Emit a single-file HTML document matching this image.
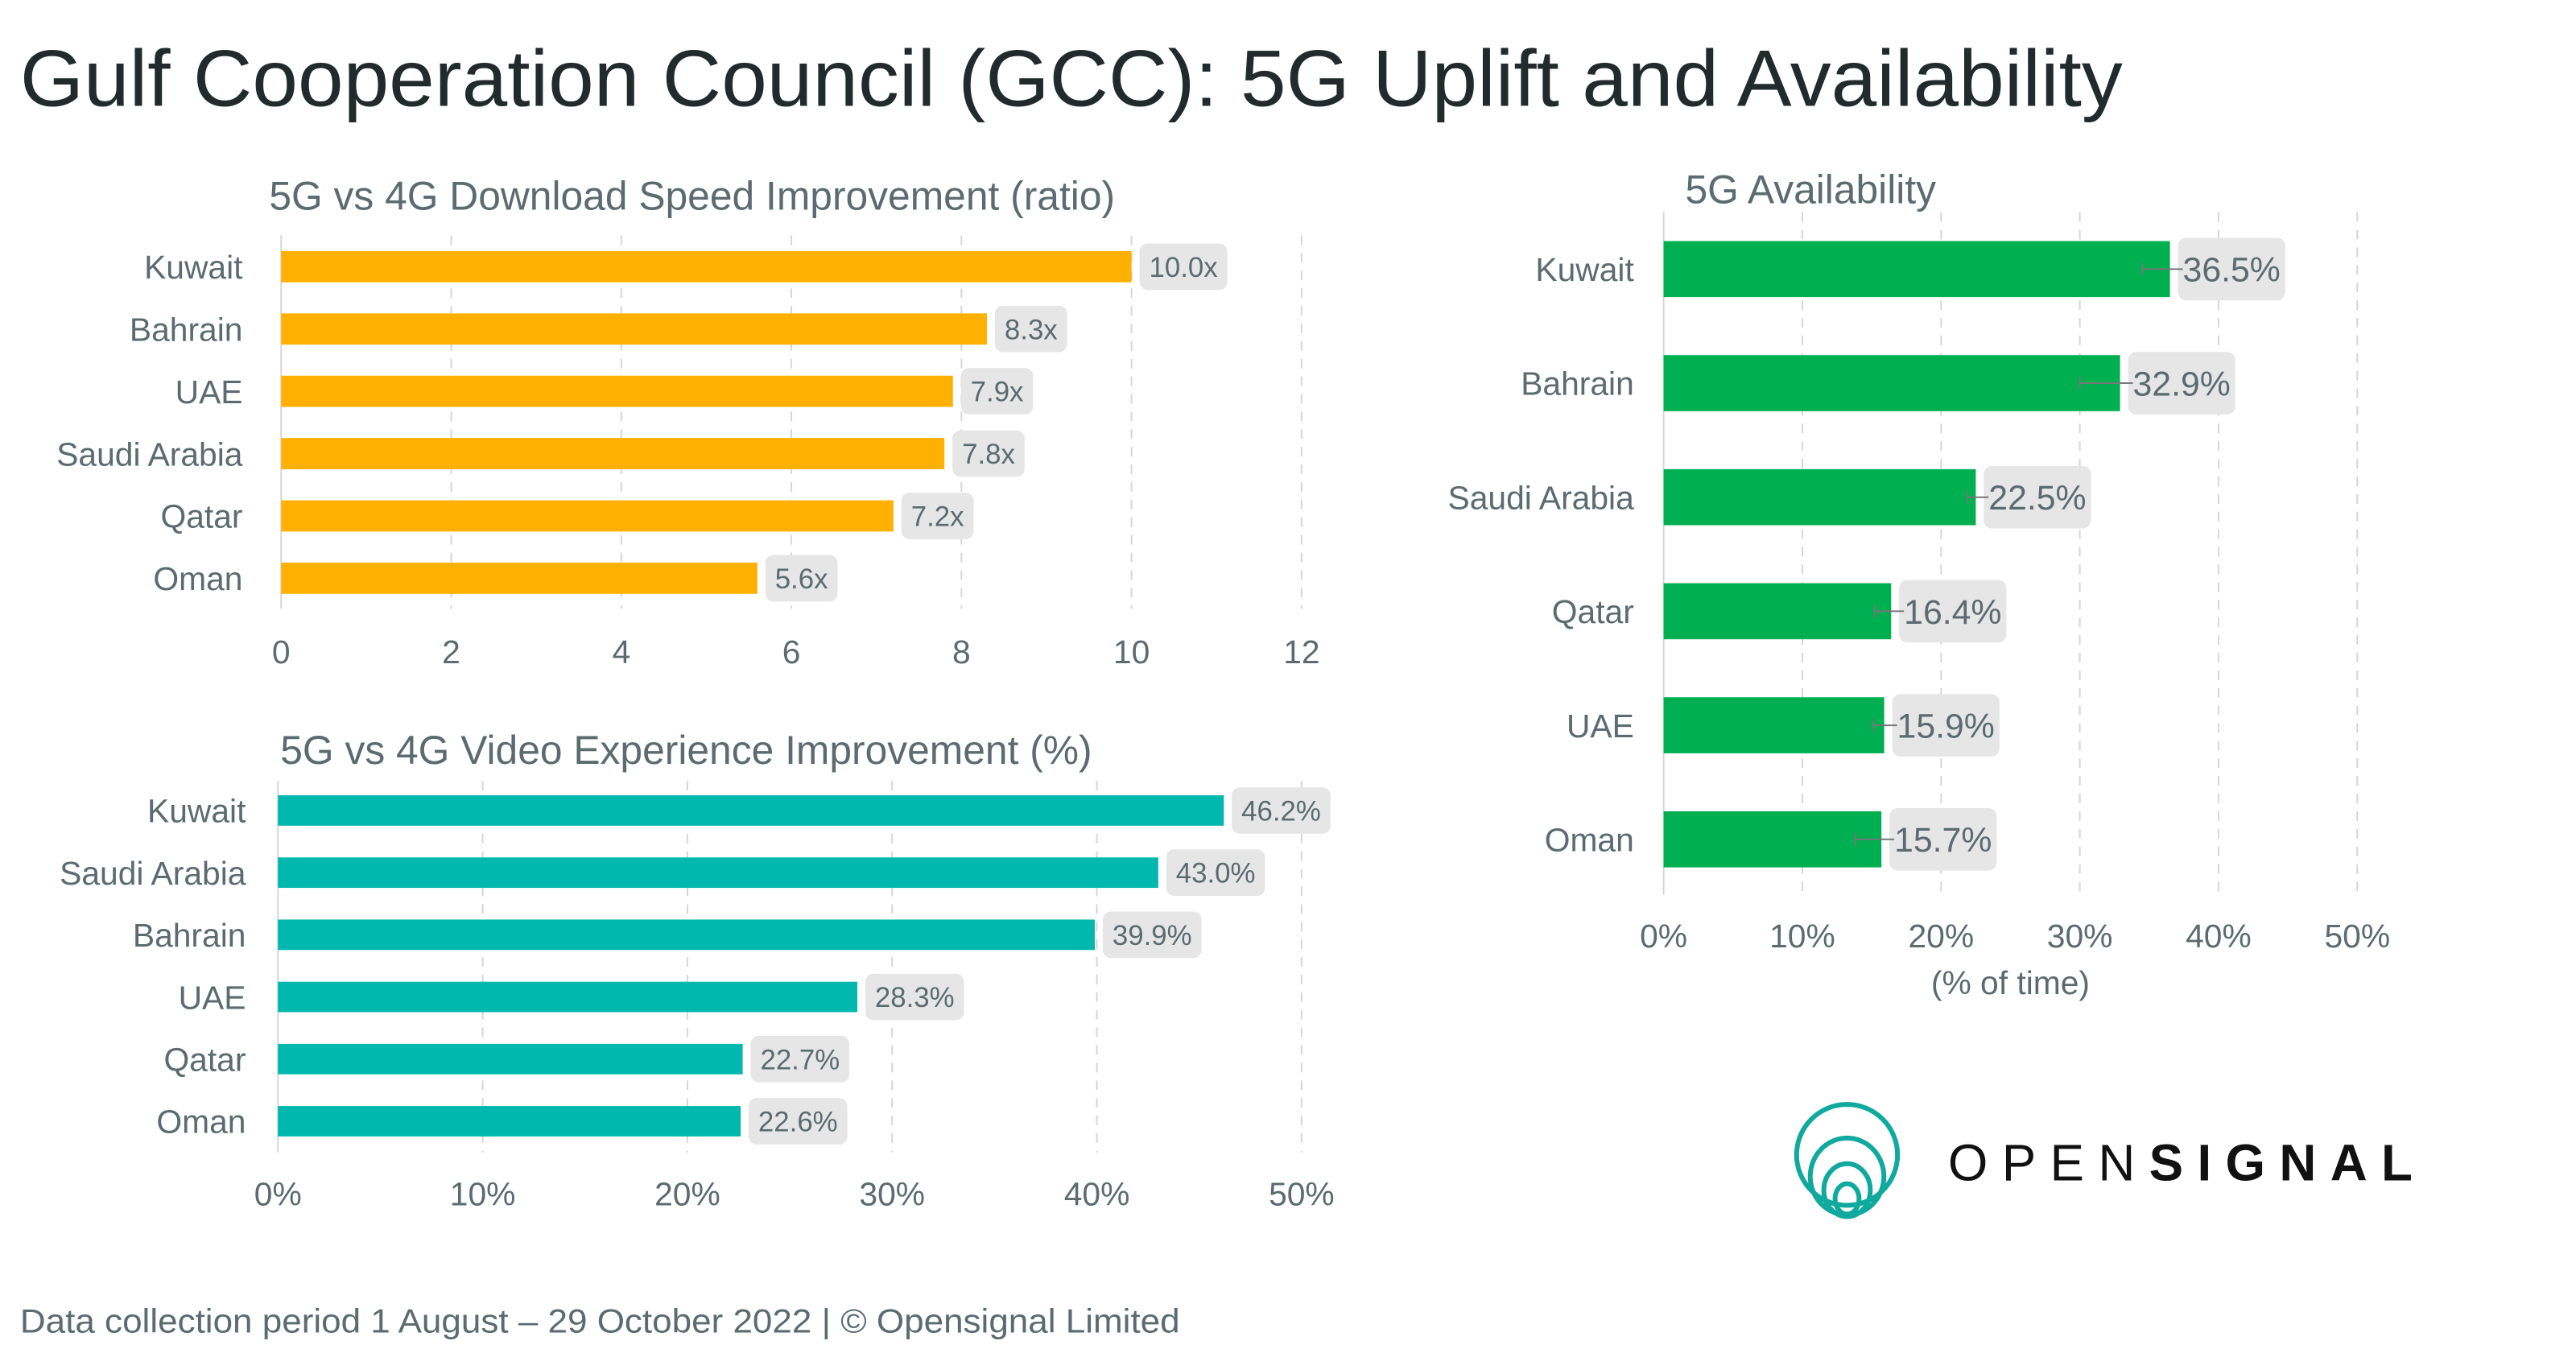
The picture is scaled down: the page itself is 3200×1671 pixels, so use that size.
<!DOCTYPE html>
<html><head><meta charset="utf-8"><style>
html,body{margin:0;padding:0;background:#fff;}
svg{display:block;font-family:"Liberation Sans",sans-serif;}
</style></head><body>
<svg id="root" width="3200" height="1671" viewBox="0 0 3200 1671" xmlns="http://www.w3.org/2000/svg">
<g transform="scale(0.995)">
<text x="25" y="132" font-size="100" fill="#222a2b" textLength="2625" lengthAdjust="spacingAndGlyphs">Gulf Cooperation Council (GCC): 5G Uplift and Availability</text>
<g id="dl"></g>
<g id="vid"></g>
<g id="av"></g>
<g>
<g fill="none" stroke="#10a99e" stroke-width="6">
<ellipse cx="2306" cy="1442" rx="63" ry="63"/>
<ellipse cx="2306" cy="1469" rx="46" ry="48"/>
<ellipse cx="2306" cy="1486" rx="29" ry="33"/>
<ellipse cx="2306" cy="1497" rx="15" ry="19"/>
</g>
<text x="2432" y="1474" font-size="64" fill="#111" textLength="580" lengthAdjust="spacing">OPEN<tspan font-weight="bold">SIGNAL</tspan></text>
</g>
<text x="25" y="1664" font-size="42" fill="#5b6b70" textLength="1448" lengthAdjust="spacingAndGlyphs">Data collection period 1 August – 29 October 2022  |  © Opensignal Limited</text>
</g>
</svg>
<script>
const dlCategories=["Kuwait","Bahrain","UAE","Saudi Arabia","Qatar","Oman"];
const dlValues=[10.0,8.3,7.9,7.8,7.2,5.6];
const dlTicks=[0,2,4,6,8,10,12];
const vidCategories=["Kuwait","Saudi Arabia","Bahrain","UAE","Qatar","Oman"];
const vidValues=[46.2,43.0,39.9,28.3,22.7,22.6];
const vidTicks=[0,10,20,30,40,50];
const avCategories=["Kuwait","Bahrain","Saudi Arabia","Qatar","UAE","Oman"];
const avValues=[36.5,32.9,22.5,16.4,15.9,15.7];
const avErrLow=[34.5,30.0,21.9,15.2,15.1,13.8];
const avTicks=[0,10,20,30,40,50];
const NS="http://www.w3.org/2000/svg";
function mk(parent,tag,attrs,text){const e=document.createElementNS(NS,tag);for(const k in attrs)e.setAttribute(k,attrs[k]);if(text!=null)e.textContent=text;parent.appendChild(e);return e;}
function chart(o){
  const g=document.getElementById(o.id);
  const x=v=>o.x0+(v-o.tmin)/(o.tmax-o.tmin)*(o.x1-o.x0);
  const y=i=>o.yc0+i*o.step;
  const t=mk(g,'text',{x:o.titleX,y:o.titleY,'font-size':o.titleSize,fill:'#5b6b70'},o.title);
  
  
  o.ticks.forEach((tv,i)=>{
    const l=mk(g,'line',{x1:x(tv),x2:x(tv),y1:o.gy0,y2:o.gy1,stroke:'#d6d6d6','stroke-width':2,'stroke-dasharray':i===0?'none':'12,10'});
    
    
    const tl=mk(g,'text',{x:x(tv),y:o.tickY,'font-size':o.fs,fill:'#5b6b70','text-anchor':'middle'},tv+o.tickSuffix);
    
    
  });
  if(o.axisTitle){const at=mk(g,'text',{x:(x(o.ticks[0])+x(o.ticks[o.ticks.length-1]))/2,y:o.axisTitleY,'font-size':o.fs,fill:'#5b6b70','text-anchor':'middle'},o.axisTitle);
    
    }
  o.cats.forEach((c,i)=>{
    const cy=y(i),v=o.vals[i];
    const cl=mk(g,'text',{x:o.labelRight,y:cy+o.fs*0.36,'font-size':o.fs,fill:'#5b6b70','text-anchor':'end'},c);
    
    
    const b=mk(g,'rect',{x:x(0),y:cy-o.bh/2,width:x(v)-x(0),height:o.bh,fill:o.color});
    
    
    const txt=o.fmt(v);
    const bx=x(v)+o.gap;
    const box=mk(g,'rect',{x:bx,y:cy-o.boxH/2,width:10,height:o.boxH,rx:10,fill:'#e6e6e6'});
    
    
    const vt=mk(g,'text',{x:bx+o.pad,y:cy+o.vfs*0.36,'font-size':o.vfs,fill:'#5b6b70'},txt);
    
    
    box.setAttribute('width',vt.getComputedTextLength()+o.pad*2);
    if(o.err){
      const el=mk(g,'line',{x1:x(o.err[i]),x2:bx+o.pad,y1:cy,y2:cy,stroke:'#777',"stroke-width":2});
      
      
      const ec=mk(g,'line',{x1:x(o.err[i]),x2:x(o.err[i]),y1:cy-8,y2:cy+8,stroke:'#777',"stroke-width":2});
      
      
    }
  });
}
chart({id:'dl',cats:dlCategories,vals:dlValues,ticks:dlTicks,tmin:0,tmax:12,x0:351,x1:1625,yc0:333,step:77.8,bh:39,color:'#ffb000',
  gy0:294,gy1:760,tickY:828,tickSuffix:'',fs:41,vfs:35,gap:10,pad:12,boxH:58,labelRight:303,fmt:v=>v.toFixed(1)+'x',
  title:'5G vs 4G Download Speed Improvement (ratio)',titleX:336,titleY:262,titleSize:50});
chart({id:'vid',cats:vidCategories,vals:vidValues,ticks:vidTicks,tmin:0,tmax:50,x0:347,x1:1625,yc0:1012,step:77.6,bh:38,color:'#00b8ad',
  gy0:975,gy1:1439,tickY:1505,tickSuffix:'%',fs:41,vfs:35,gap:10,pad:12,boxH:58,labelRight:307,fmt:v=>v.toFixed(1)+'%',
  title:'5G vs 4G Video Experience Improvement (%)',titleX:350,titleY:954,titleSize:50});
chart({id:'av',cats:avCategories,vals:avValues,ticks:avTicks,tmin:0,tmax:50,x0:2077,x1:2943,yc0:336,step:142.4,bh:70,color:'#00af50',
  gy0:265,gy1:1117,tickY:1183,tickSuffix:'%',fs:41,vfs:43,gap:10,pad:6,boxH:78,labelRight:2040,fmt:v=>v.toFixed(1)+'%',err:avErrLow,
  axisTitle:'(% of time)',axisTitleY:1241,
  title:'5G Availability',titleX:2104,titleY:254,titleSize:50});
</script>
</body></html>
